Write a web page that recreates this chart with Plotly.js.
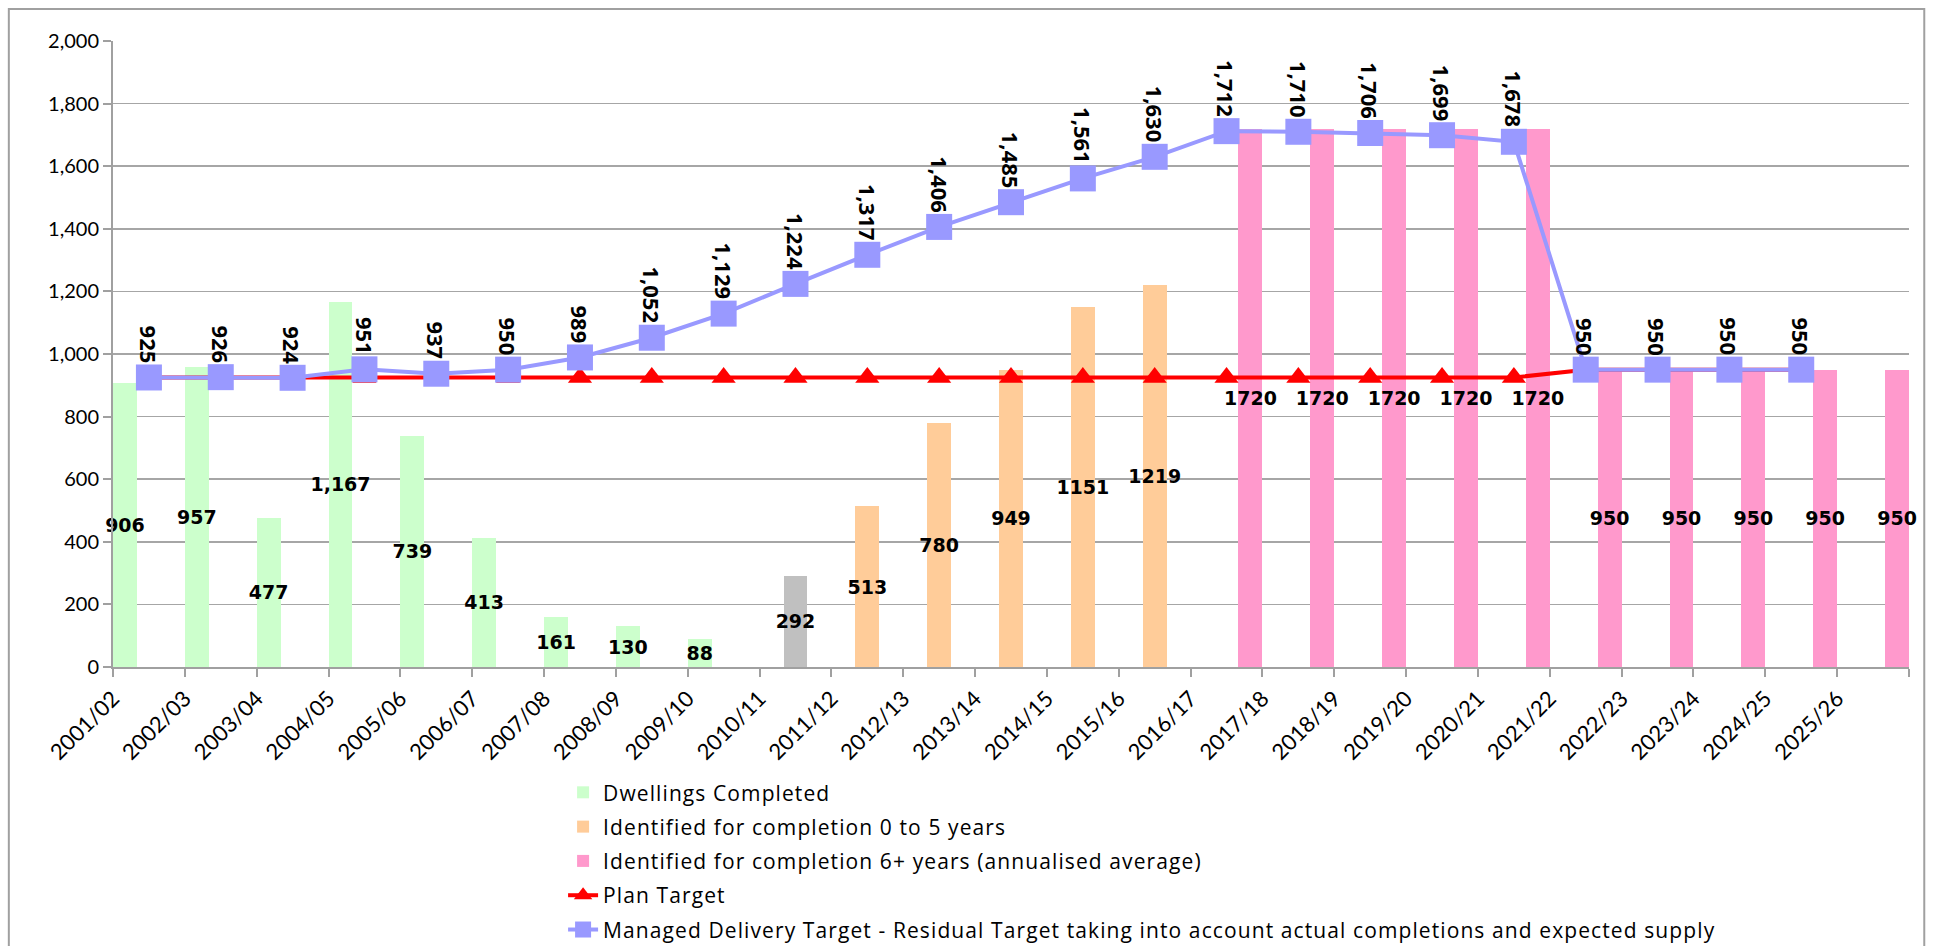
<!DOCTYPE html>
<html>
<head>
<meta charset="utf-8">
<script src="https://cdn.plot.ly/plotly-3.0.1.min.js"></script>
<style>
html,body{margin:0;padding:0;background:#fff;}
#chart{width:1934px;height:946px;}
#chart .legend .legendtext{letter-spacing:1.1px;}
#chart .legend .scrollbox{clip-path:none !important;}
</style>
</head>
<body>
<div id="chart"></div>
<script>
const categories = ['2001/02','2002/03','2003/04','2004/05','2005/06','2006/07','2007/08','2008/09','2009/10','2010/11','2011/12','2012/13','2013/14','2014/15','2015/16','2016/17','2017/18','2018/19','2019/20','2020/21','2021/22','2022/23','2023/24','2024/25','2025/26'];

const dwellingsCompleted = [906,957,477,1167,739,413,161,130,88,null,null,null,null,null,null,null,null,null,null,null,null,null,null,null,null];
const identifiedGrey = [null,null,null,null,null,null,null,null,null,292,null,null,null,null,null,null,null,null,null,null,null,null,null,null,null];
const identified0to5 = [null,null,null,null,null,null,null,null,null,null,513,780,949,1151,1219,null,null,null,null,null,null,null,null,null,null];
const identified6plus = [null,null,null,null,null,null,null,null,null,null,null,null,null,null,null,1720,1720,1720,1720,1720,950,950,950,950,950];
const planTarget = [925,925,925,925,925,925,925,925,925,925,925,925,925,925,925,925,925,925,925,925,950,950,950,950,null];
const managedTarget = [925,926,924,951,937,950,989,1052,1129,1224,1317,1406,1485,1561,1630,1712,1710,1706,1699,1678,950,950,950,950,null];

const xIdx = categories.map((c, i) => i);
const tickVals = categories.map((c, i) => i - 0.5).concat([categories.length - 0.5]);
const tickText = categories.concat(['']);

const barLabelFont = {family: 'DejaVu Sans', size: 19, color: '#000', weight: 'bold'};
const lineLabelFont = {family: 'Open Sans', size: 22, color: '#000', weight: 'bold'};

function barTrace(name, vals, color, group, fmt, showlegend) {
  return {
    type: 'bar', name: name, x: xIdx, y: vals, offsetgroup: group, legendgroup: name,
    marker: {color: color, line: {width: 0}},
    text: vals.map(v => v == null ? '' : fmt(v)),
    textposition: 'inside', insidetextanchor: 'middle', textangle: 0,
    constraintext: 'none',
    insidetextfont: barLabelFont, textfont: barLabelFont,
    showlegend: showlegend, hoverinfo: 'skip', cliponaxis: false
  };
}

const traces = [
  barTrace('Dwellings Completed', dwellingsCompleted, '#CCFFCC', 'a', v => v.toLocaleString('en-US'), true),
  barTrace('Identified for completion 0 to 5 years', identified0to5, '#FFCC99', 'b', v => String(v), true),
  barTrace('Identified for completion 6+ years (annualised average)', identified6plus, '#FF99CC', 'c', v => String(v), true),
  barTrace('Identified (grey)', identifiedGrey, '#C0C0C0', 'b', v => String(v), false),
  {
    type: 'scatter', mode: 'lines+markers', name: 'Plan Target', legendgroup: 'plan', x: xIdx, y: planTarget,
    line: {color: '#FF0000', width: 4},
    marker: {symbol: 'triangle-up', size: 21, color: '#FF0000'},
    hoverinfo: 'skip'
  },
  {
    type: 'scatter', mode: 'lines+markers', legendgroup: 'managed',
    name: 'Managed Delivery Target - Residual Target taking into account actual completions and expected supply',
    x: xIdx, y: managedTarget,
    line: {color: '#9999FF', width: 4},
    marker: {symbol: 'square', size: 26, color: '#9999FF'},
    hoverinfo: 'skip'
  }
];

const annotations = managedTarget.map((v, i) => v == null ? null : {
  x: xIdx[i], y: v, xref: 'x', yref: 'y', text: v.toLocaleString('en-US'),
  showarrow: false, textangle: 90, yanchor: 'bottom', xanchor: 'center', yshift: 12,
  font: lineLabelFont
}).filter(a => a);

const layout = {
  width: 1934, height: 946,
  margin: {l: 113, r: 25, t: 41, b: 279, autoexpand: false},
  paper_bgcolor: '#fff', plot_bgcolor: '#fff',
  barmode: 'group', bargap: 0, bargroupgap: 0,
  showlegend: true,
  legend: {
    x: 0.2506, xanchor: 'left', y: -0.168, yanchor: 'top',
    orientation: 'v', traceorder: 'grouped', tracegroupgap: 4,
    font: {family: 'Open Sans', size: 21, color: '#000'},
    bgcolor: 'rgba(0,0,0,0)', borderwidth: 0
  },
  xaxis: {
    type: 'linear', range: [-0.5, categories.length - 0.5],
    tickmode: 'array', tickvals: tickVals, ticktext: tickText,
    tickangle: -45, tickfont: {family: 'Lato', size: 22, color: '#000'},
    showgrid: false, zeroline: false,
    showline: true, linecolor: '#a0a0a0', linewidth: 2,
    ticks: 'outside', ticklen: 8, tickcolor: '#a0a0a0', tickwidth: 2
  },
  yaxis: {
    range: [0, 2000], dtick: 200, tick0: 0, tickformat: ',d',
    tickfont: {family: 'Lato', size: 20, color: '#000'},
    showgrid: true, gridcolor: '#a6a6a6', gridwidth: 1.5,
    zeroline: false,
    showline: true, linecolor: '#a0a0a0', linewidth: 2,
    ticks: 'outside', ticklen: 8, tickcolor: '#a0a0a0', tickwidth: 2
  },
  annotations: annotations,
  shapes: [{
    type: 'rect', xref: 'paper', yref: 'paper',
    x0: -0.058, x1: 1.0085, y0: -0.6, y1: 1.051,
    line: {color: '#a0a0a0', width: 2}, fillcolor: 'rgba(0,0,0,0)', layer: 'below'
  }]
};

Plotly.newPlot('chart', traces, layout, {displayModeBar: false, staticPlot: true});
</script>
</body>
</html>
